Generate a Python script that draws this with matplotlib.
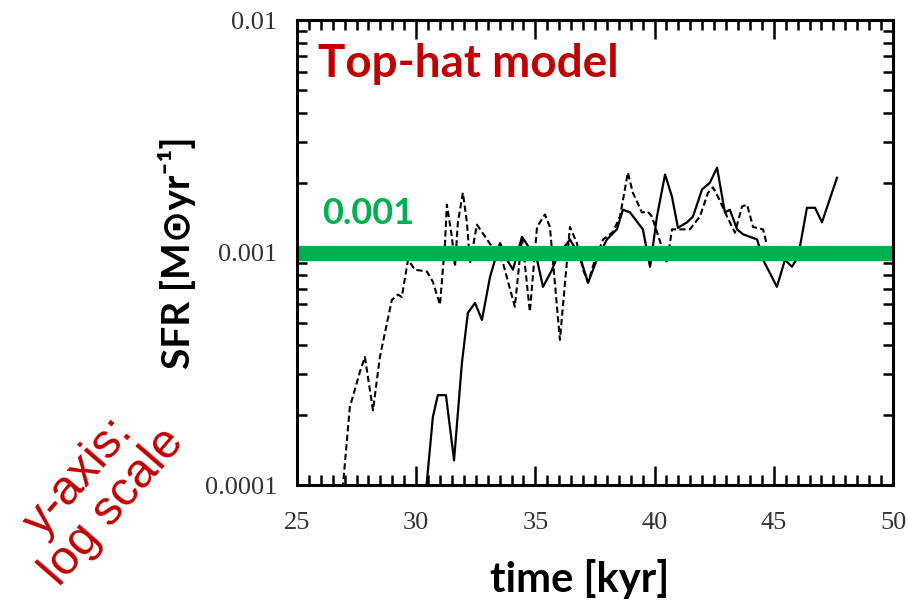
import matplotlib
matplotlib.use("Agg")
import matplotlib.pyplot as plt
from matplotlib.ticker import MultipleLocator, LogLocator, NullFormatter

# dashed run (time in kyr, SFR in Msun/yr)
t_dash = [26.85, 27.22, 27.64, 27.85, 28.19, 28.48, 28.98, 29.24, 29.40, 29.66,
          29.95, 30.45, 30.70, 31.00, 31.21, 31.29, 31.50, 31.63, 31.75, 31.96,
          32.13, 32.26, 32.55, 33.64, 34.14, 34.44, 34.77, 35.07, 35.40, 35.61,
          36.03, 36.33, 36.45, 36.74, 37.00, 37.21, 37.50, 37.84, 38.26, 38.55,
          38.88, 39.09, 39.47, 39.72, 39.89, 40.52, 40.73, 41.48, 41.90, 42.24,
          42.45, 42.66, 43.04, 43.37, 43.67, 43.88, 44.13, 44.55, 44.71]
sfr_dash = [8.0e-5, 2.17e-4, 3.07e-4, 3.56e-4, 2.10e-4, 3.56e-4, 6.26e-4, 6.6e-4, 6.45e-4, 9.33e-4,
            8.45e-4, 8.3e-4, 7.5e-4, 5.97e-4, 1.10e-3, 1.61e-3, 1.17e-3, 8.7e-4, 1.35e-3, 1.81e-3,
            1.35e-3, 9.05e-4, 1.32e-3, 9.05e-4, 5.85e-4, 1.17e-3, 5.57e-4, 1.29e-3, 1.46e-3, 1.29e-3,
            4.22e-4, 9.33e-4, 1.29e-3, 1.10e-3, 8.45e-4, 7.43e-4, 9.33e-4, 1.14e-3, 1.23e-3, 1.43e-3,
            2.21e-3, 1.81e-3, 1.49e-3, 1.50e-3, 1.43e-3, 9.05e-4, 1.26e-3, 1.26e-3, 1.43e-3, 1.81e-3,
            1.91e-3, 1.74e-3, 1.43e-3, 1.22e-3, 1.58e-3, 1.61e-3, 1.29e-3, 1.26e-3, 1.08e-3]

# solid run
t_solid = [30.35, 30.70, 30.91, 31.25, 31.59, 31.92, 32.17, 32.47, 32.76, 33.10,
           33.31, 33.52, 33.81, 34.06, 34.44, 35.07, 35.32, 35.70, 35.91, 36.45,
           36.87, 37.21, 37.58, 38.00, 38.42, 38.67, 38.97, 39.51, 39.81, 40.10,
           40.44, 40.73, 40.98, 41.36, 41.61, 41.99, 42.32, 42.62, 42.95, 43.16,
           43.46, 43.71, 44.30, 44.55, 45.13, 45.47, 45.76, 46.02, 46.39, 46.73,
           47.02, 47.65]
sfr_solid = [8.0e-5, 1.96e-4, 2.44e-4, 2.44e-4, 1.28e-4, 3.36e-4, 5.51e-4, 6.08e-4, 5.14e-4, 7.88e-4,
             9.33e-4, 1.10e-3, 9.33e-4, 8.45e-4, 1.17e-3, 9.33e-4, 7.13e-4, 8.45e-4, 9.6e-4, 1.14e-3,
             9.6e-4, 7.43e-4, 9.33e-4, 1.14e-3, 1.26e-3, 1.53e-3, 1.49e-3, 1.26e-3, 8.7e-4, 1.43e-3,
             2.17e-3, 1.74e-3, 1.28e-3, 1.35e-3, 1.43e-3, 1.87e-3, 2.0e-3, 2.32e-3, 1.49e-3, 1.53e-3,
             1.26e-3, 1.20e-3, 1.14e-3, 9.33e-4, 7.13e-4, 9.33e-4, 8.7e-4, 9.6e-4, 1.56e-3, 1.56e-3,
             1.35e-3, 2.10e-3]

target_sfr = 0.001
x_ticks = [25, 30, 35, 40, 45, 50]
y_ticks = [1e-4, 1e-3, 1e-2]
y_ticklabels = ["0.0001", "0.001", "0.01"]

bold_sans = ["Lato", "DejaVu Sans"]

fig = plt.figure(figsize=(9.08, 6.02), dpi=100)
ax = fig.add_axes([0.327, 0.194, 0.6565, 0.7725])

ax.plot(t_dash, sfr_dash, color="black", lw=1.5, ls=(0, (3, 1.6)))
ax.plot(t_solid, sfr_solid, color="black", lw=1.6)
ax.plot([25, 50], [target_sfr, target_sfr], color="#00B050", lw=11, solid_capstyle="butt")

ax.set_yscale("log")
ax.set_xlim(25, 50)
ax.set_ylim(1e-4, 1e-2)

ax.set_xticks(x_ticks)
ax.set_xticklabels([str(v) for v in x_ticks], family="Liberation Serif", fontsize=19, color="#333333")
ax.xaxis.set_minor_locator(MultipleLocator(0.5))
ax.set_yticks(y_ticks)
ax.set_yticklabels(y_ticklabels, family="Liberation Serif", fontsize=19, color="#333333")
ax.yaxis.set_minor_locator(LogLocator(base=10, subs=range(2, 10)))
ax.yaxis.set_minor_formatter(NullFormatter())

ax.tick_params(which="both", direction="in", top=True, right=True, width=1.8)
ax.tick_params(which="major", length=14)
ax.tick_params(axis="x", which="major", pad=19)
ax.tick_params(axis="y", which="major", pad=14)
ax.tick_params(which="minor", length=7)
for s in ax.spines.values():
    s.set_linewidth(2.2)

ax.set_xlabel("time [kyr]", family=bold_sans, fontweight="bold", fontsize=30)
ax.xaxis.set_label_coords(0.475, -0.158)
ax.set_ylabel("SFR [M⊙yr⁻¹]", family=bold_sans, fontweight="bold", fontsize=28)
ax.yaxis.set_label_coords(-0.17, 0.5)

ax.text(0.035, 0.905, "Top-hat model", transform=ax.transAxes, family="Lato", fontweight="bold",
        fontsize=33, color="#C00000", va="center", ha="left")
ax.text(0.042, 0.585, "0.001", transform=ax.transAxes, family="Lato", fontweight="bold",
        fontsize=26, color="#00B050", va="center", ha="left")

fig.text(0.106, 0.183, "y-axis:\nlog scale", family="Liberation Sans", fontsize=35, color="#C00000",
         rotation=49, ha="center", va="center", linespacing=1.0)

fig.savefig("out.png", dpi=100)
